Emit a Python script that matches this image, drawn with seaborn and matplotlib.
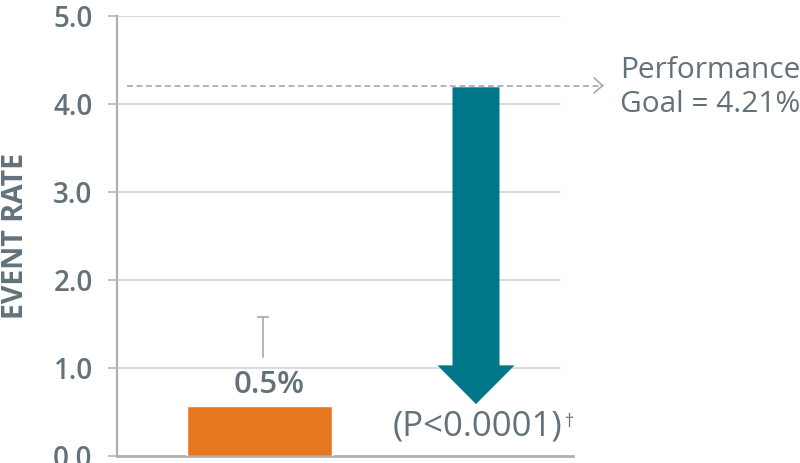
import matplotlib
matplotlib.use("Agg")
import matplotlib.pyplot as plt
import seaborn as sns
import pandas as pd
from matplotlib.patches import FancyArrow

# ---- data ----
categories = ["Observed", "Goal"]
event_rates = [0.57, 4.19]      # bar height, arrow start
arrow_tip = 0.59                # where the arrow ends
err_low, err_high = 1.13, 1.58  # floating upper-bound whisker
goal = 4.21
yticks = [0, 1, 2, 3, 4, 5]
ytick_labels = ["0.0", "1.0", "2.0", "3.0", "4.0", "5.0"]
bar_label = "0.5%"
p_label = "(P<0.0001)"
p_mark = "\u2020"
goal_label = "Performance\nGoal = 4.21%"
ylabel = "EVENT RATE"

orange = "#E87722"
teal = "#007788"
text_gray = "#62717A"
grid_gray = "#D2D2D2"
axis_gray = "#B0B0B0"

sns.set_style("white")
plt.rcParams['font.family'] = ['Open Sans', 'DejaVu Sans']

fig = plt.figure(figsize=(8, 4.63), dpi=100)
ax = fig.add_axes([117/800, 7/463, 456/800, 440/463])

df = pd.DataFrame({"cat": categories[:1], "rate": event_rates[:1]})
sns.barplot(data=df, x="cat", y="rate", order=categories, color=orange,
            saturation=1, width=0.67, ax=ax, zorder=3)

ax.set_xlim(-0.658, 1.448)
ax.set_ylim(0, 5)

for y in yticks[1:]:
    ax.axhline(y, xmin=0, xmax=(560-117)/456, color=grid_gray, lw=1.1, zorder=1)

arr = FancyArrow(1, event_rates[1], 0, arrow_tip - event_rates[1], width=0.217,
                 head_width=0.356, head_length=0.44, length_includes_head=True,
                 color=teal, lw=0, zorder=4)
ax.add_patch(arr)

ax.plot([0.016, 0.016], [err_low, err_high], color=axis_gray, lw=1.3, zorder=3)
ax.plot([0.016], [err_high], marker="_", markersize=8, mew=1.3, color=axis_gray, zorder=3)

ax.plot([-0.612, 1.585], [goal, goal], color="#A8A8A8", lw=1.2,
        ls=(0, (3.5, 2.2)), clip_on=False, zorder=2)
ax.annotate("", xy=(1.59, goal), xytext=(1.58, goal),
            arrowprops=dict(arrowstyle="->, head_length=0.3, head_width=0.27",
                            color="#A8A8A8", lw=1.2, mutation_scale=20,
                            shrinkA=0, shrinkB=0),
            annotation_clip=False)
ax.text(1.665, 4.19, goal_label, ha="left", va="center", fontsize=21.5,
        color=text_gray, linespacing=1.22, clip_on=False)

ax.text(0.044, 0.81, bar_label, ha="center", va="center", fontsize=22.5,
        fontweight="semibold", color=text_gray)
pt = ax.text(1.005, 0.33, p_label, ha="center", va="center", fontsize=25,
             color=text_gray)
ax.annotate(p_mark, xy=(1.02, 0.9), xycoords=pt, ha="left", va="top",
            fontsize=13, color=text_gray)

for s in ["top", "right"]:
    ax.spines[s].set_visible(False)
ax.spines["left"].set_color(axis_gray)
ax.spines["left"].set_linewidth(1.6)
ax.spines["bottom"].set_color(axis_gray)
ax.spines["bottom"].set_linewidth(2.0)
ax.set_xticks([])
ax.set_xlabel("")
ax.set_yticks(yticks)
ax.set_yticklabels(ytick_labels)
ax.tick_params(axis="y", length=6.5, width=1.1, color=axis_gray, pad=11,
               labelsize=20, labelcolor=text_gray, left=True)
for t in ax.get_yticklabels():
    t.set_fontweight("semibold")
ax.set_ylabel(ylabel, fontsize=20.5, fontweight="bold", color=text_gray)
ax.yaxis.set_label_coords(-0.19, 0.5)

fig.savefig("out.png", dpi=100)
